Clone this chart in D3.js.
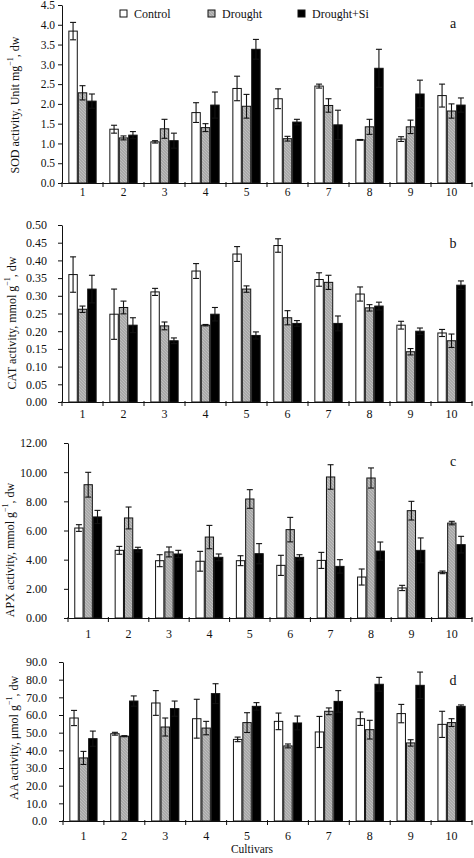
<!DOCTYPE html>
<html><head><meta charset="utf-8">
<script src="https://cdn.jsdelivr.net/npm/d3@7"></script>
<style>
body{margin:0;background:#fff}
svg{display:block}
text{font-family:"Liberation Serif","Times New Roman",serif;fill:#111}
</style>
</head><body>
<svg id="chart" width="474" height="858"></svg>
<script>
const cultivars = ["1","2","3","4","5","6","7","8","9","10"];
const seriesNames = ["Control","Drought","Drought+Si"];

const sodControl    = [3.84,1.36,1.04,1.78,2.39,2.13,2.45,1.09,1.11,2.21];
const sodControlErr = [0.22,0.10,0.03,0.25,0.31,0.25,0.05,0.01,0.06,0.29];
const sodDrought    = [2.28,1.14,1.37,1.40,1.94,1.12,1.96,1.42,1.42,1.82];
const sodDroughtErr = [0.18,0.05,0.24,0.10,0.30,0.06,0.17,0.19,0.17,0.18];
const sodSi         = [2.07,1.21,1.07,1.97,3.38,1.54,1.47,2.90,2.25,1.97];
const sodSiErr      = [0.18,0.09,0.19,0.33,0.25,0.07,0.37,0.48,0.35,0.18];

const catControl    = [0.360,0.248,0.311,0.370,0.418,0.442,0.346,0.305,0.217,0.195];
const catControlErr = [0.050,0.071,0.010,0.021,0.021,0.019,0.019,0.020,0.011,0.010];
const catDrought    = [0.262,0.267,0.215,0.217,0.319,0.238,0.338,0.266,0.142,0.173];
const catDroughtErr = [0.009,0.018,0.011,0.002,0.009,0.020,0.020,0.009,0.009,0.019];
const catSi         = [0.319,0.217,0.173,0.248,0.188,0.222,0.222,0.271,0.200,0.330];
const catSiErr      = [0.039,0.021,0.008,0.019,0.010,0.008,0.021,0.011,0.009,0.012];

const apxControl    = [6.17,4.64,3.93,3.89,3.93,3.61,3.95,2.81,2.06,3.13];
const apxControlErr = [0.23,0.27,0.41,0.68,0.34,0.69,0.55,0.55,0.18,0.09];
const apxDrought    = [9.14,6.86,4.53,5.55,8.16,6.06,9.67,9.60,7.36,6.51];
const apxDroughtErr = [0.85,0.75,0.34,0.80,0.64,0.84,0.84,0.69,0.64,0.12];
const apxSi         = [6.93,4.69,4.39,4.16,4.41,4.16,3.54,4.59,4.64,5.03];
const apxSiErr      = [0.45,0.16,0.25,0.23,0.69,0.18,0.46,0.62,0.85,0.57];

const aaControl     = [58.3,49.4,66.8,57.9,46.2,56.4,50.4,57.9,60.8,54.7];
const aaControlErr  = [4.3,0.8,7.0,11.0,1.3,4.7,8.8,3.8,5.2,7.4];
const aaDrought     = [35.7,48.0,53.2,52.6,55.7,42.5,62.1,51.7,44.2,55.7];
const aaDroughtErr  = [3.7,0.3,5.1,3.8,5.6,1.1,1.9,5.3,1.8,2.2];
const aaSi          = [46.6,67.9,63.6,72.1,64.9,55.5,67.7,77.4,76.8,64.9];
const aaSiErr       = [4.3,2.9,4.3,5.6,2.1,3.9,6.1,3.9,7.5,0.8];

const yTicksSOD = [0,0.5,1,1.5,2,2.5,3,3.5,4,4.5];
const yTicksCAT = [0,0.05,0.10,0.15,0.20,0.25,0.30,0.35,0.40,0.45,0.50];
const yTicksAPX = [0,2,4,6,8,10,12];
const yTicksAA  = [0,10,20,30,40,50,60,70,80,90];

const panels = [
  {letter:"a", title:["SOD activity, Unit mg","−1",", dw"], vals:[sodControl,sodDrought,sodSi], errs:[sodControlErr,sodDroughtErr,sodSiErr],
   ticks:yTicksSOD, fmt:".1f", left:62, top:5, bottom:183, pad:3, xlab:14, titleX:16, titleY:105, fs:11.5},
  {letter:"b", title:["CAT activity, mmol g","−1",", dw"], vals:[catControl,catDrought,catSi], errs:[catControlErr,catDroughtErr,catSiErr],
   ticks:yTicksCAT, fmt:".2f", left:62, top:225, bottom:402, pad:11, xlab:16, titleX:13, titleY:323, fs:12},
  {letter:"c", title:["APX activity, mmol g","−1",", dw"], vals:[apxControl,apxDrought,apxSi], errs:[apxControlErr,apxDroughtErr,apxSiErr],
   ticks:yTicksAPX, fmt:".2f", left:68, top:443, bottom:618, pad:17, xlab:20, titleX:11, titleY:550, fs:12},
  {letter:"d", title:["AA activity, μmol g","−1",", dw"], vals:[aaControl,aaDrought,aaSi], errs:[aaControlErr,aaDroughtErr,aaSiErr],
   ticks:yTicksAA, fmt:".1f", left:63, top:662, bottom:821, pad:12, xlab:19, titleX:15, titleY:738, fs:12}
];

const svg = d3.select("#chart");
const defs = svg.append("defs");
const pat = defs.append("pattern").attr("id","hatch").attr("patternUnits","userSpaceOnUse")
  .attr("width",3).attr("height",3);
pat.append("rect").attr("width",3).attr("height",3).attr("fill","#a9a9a9");
pat.append("path").attr("d","M-1,-1L4,4M-1,2L1,4M2,-1L4,1").attr("stroke","#c4c4c4").attr("stroke-width",0.8);

const fills = ["#ffffff","url(#hatch)","#000000"];
const right = 472;

panels.forEach(p => {
  const g = svg.append("g");
  const x = d3.scaleBand().domain(cultivars).range([p.left, right]).padding(0);
  const bw = x.bandwidth() * 0.23;
  const x1 = d3.scaleBand().domain(seriesNames).range([x.bandwidth()/2 - 1.5*bw, x.bandwidth()/2 + 1.5*bw]).padding(0);
  const ymax = p.ticks[p.ticks.length-1];
  const y = d3.scaleLinear().domain([0, ymax]).range([p.bottom, p.top]);

  seriesNames.forEach((s, si) => {
    const data = cultivars.map((c, i) => ({c, v: p.vals[si][i], e: p.errs[si][i]}));
    g.append("g").selectAll("rect").data(data).join("rect")
      .attr("x", d => x(d.c) + x1(s) + 0.5)
      .attr("y", d => y(d.v))
      .attr("width", x1.bandwidth() - 1)
      .attr("height", d => y(0) - y(d.v))
      .attr("fill", fills[si])
      .attr("stroke", "#111").attr("stroke-width", 1);
    const eb = g.append("g").attr("stroke","#111").attr("stroke-width",1.1);
    eb.selectAll("line.v").data(data).join("line").attr("class","v")
      .attr("x1", d => x(d.c) + x1(s) + x1.bandwidth()/2)
      .attr("x2", d => x(d.c) + x1(s) + x1.bandwidth()/2)
      .attr("y1", d => y(d.v + d.e)).attr("y2", d => y(Math.max(0, d.v - d.e)));
    eb.selectAll("line.t").data(data).join("line").attr("class","t")
      .attr("x1", d => x(d.c) + x1(s) + x1.bandwidth()/2 - 3)
      .attr("x2", d => x(d.c) + x1(s) + x1.bandwidth()/2 + 3)
      .attr("y1", d => y(d.v + d.e)).attr("y2", d => y(d.v + d.e));
    eb.selectAll("line.b").data(data).join("line").attr("class","b")
      .attr("x1", d => x(d.c) + x1(s) + x1.bandwidth()/2 - 3)
      .attr("x2", d => x(d.c) + x1(s) + x1.bandwidth()/2 + 3)
      .attr("y1", d => y(Math.max(0, d.v - d.e))).attr("y2", d => y(Math.max(0, d.v - d.e)));
  });

  const ya = g.append("g").attr("transform", `translate(${p.left},0)`)
    .call(d3.axisLeft(y).tickValues(p.ticks).tickFormat(d3.format(p.fmt)).tickSize(4).tickPadding(p.pad).tickSizeOuter(0));
  ya.selectAll("text").style("font-size", p.fs + "px").style("font-family", '"Liberation Serif",serif').attr("fill","#222");
  ya.selectAll("line, path").attr("stroke", "#111");

  const xa = g.append("g").attr("transform", `translate(0,${p.bottom})`)
    .call(d3.axisBottom(x).tickSize(0).tickPadding(p.xlab - 9).tickSizeOuter(0));
  xa.selectAll("text").style("font-size", p.fs + "px").style("font-family", '"Liberation Serif",serif').attr("fill","#222");
  xa.select("path").attr("stroke","#111");
  const bounds = cultivars.map(c => x(c)).concat([x.range()[1]]);
  g.append("g").selectAll("line").data(bounds).join("line")
    .attr("x1", d => d).attr("x2", d => d)
    .attr("y1", p.bottom - 1).attr("y2", p.bottom + 4)
    .attr("stroke", "#111");

  const t = g.append("text")
    .attr("transform", `translate(${p.titleX},${p.titleY}) rotate(-90)`)
    .attr("text-anchor","middle").attr("dominant-baseline","middle")
    .style("font-size","12px");
  t.append("tspan").text(p.title[0]);
  t.append("tspan").attr("baseline-shift","super").style("font-size","8px").text(p.title[1]);
  t.append("tspan").text(p.title[2]);

  g.append("text").attr("x", 453).attr("y", p.top + 23).attr("text-anchor","middle")
    .style("font-size","14px").text(p.letter);
});

const legendX = [120, 208, 298];
const leg = svg.append("g");
seriesNames.forEach((s, i) => {
  leg.append("rect").attr("x", legendX[i]).attr("y", 10).attr("width", 7).attr("height", 7)
    .attr("fill", fills[i]).attr("stroke", "#111");
  leg.append("text").attr("x", legendX[i] + 14).attr("y", 18).style("font-size","12px").text(s);
});

svg.append("text").attr("x", 252).attr("y", 853).attr("text-anchor","middle")
  .style("font-size","11.5px").text("Cultivars");
</script>
</body></html>
